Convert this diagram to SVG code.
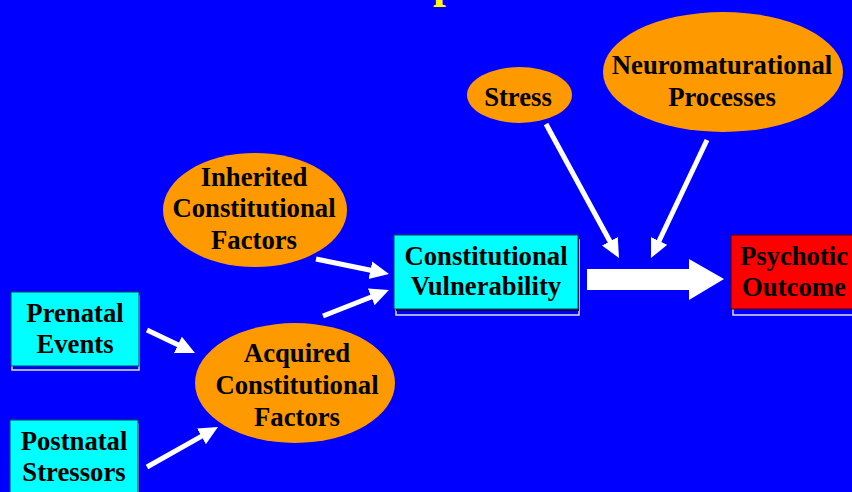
<svg xmlns="http://www.w3.org/2000/svg" width="852" height="492" viewBox="0 0 852 492">
<defs>
<style>
.t{font-family:"Liberation Serif","Times New Roman",serif;font-weight:bold;font-size:26.7px;fill:#000;text-anchor:middle}
.ell{fill:#FF9900}
.box{fill:#00FFFF;stroke:#004848;stroke-width:1}
.red{fill:#FF0000;stroke:#480000;stroke-width:1}
.sh{fill:none;stroke:#E0E0FF;stroke-width:1.5}
.ln{stroke:#FFFFFF;stroke-width:5;fill:none}
</style>
<marker id="ah" markerUnits="userSpaceOnUse" markerWidth="22" markerHeight="20" refX="4" refY="9" orient="auto">
<path d="M0,0 L19,9 L0,18 z" fill="#FFFFFF"/>
</marker>
</defs>
<rect x="0" y="0" width="852" height="492" fill="#0000FF"/>
<text x="433" y="-3" style="font-family:'Liberation Serif',serif;font-weight:bold;font-size:46px;fill:#FFFF00">p</text>

<g id="prenatal">
<rect class="sh" x="12" y="296" width="127" height="74"/>
<rect class="box" x="11" y="292" width="128" height="74"/>
<text class="t" x="75" y="322">Prenatal</text>
<text class="t" x="75" y="353">Events</text>
</g>
<g id="postnatal">
<rect class="sh" x="11" y="424" width="127" height="74"/>
<rect class="box" x="10" y="420" width="128" height="80"/>
<text class="t" x="74" y="450">Postnatal</text>
<text class="t" x="74" y="481">Stressors</text>
</g>
<g id="inherited">
<ellipse class="ell" cx="255" cy="210" rx="92" ry="57"/>
<text class="t" x="254" y="186">Inherited</text>
<text class="t" x="254" y="217">Constitutional</text>
<text class="t" x="254" y="249">Factors</text>
</g>
<g id="acquired">
<ellipse class="ell" cx="295" cy="383" rx="100" ry="60"/>
<text class="t" x="297" y="362">Acquired</text>
<text class="t" x="297" y="394">Constitutional</text>
<text class="t" x="297" y="426">Factors</text>
</g>
<g id="vulnerability">
<rect class="sh" x="396" y="240" width="183" height="75"/>
<rect x="396" y="237" width="183" height="74" fill="#000040"/>
<rect class="box" x="394" y="235" width="184" height="74"/>
<text class="t" x="486" y="265">Constitutional</text>
<text class="t" x="486" y="295">Vulnerability</text>
</g>
<g id="psychotic">
<rect class="sh" x="733" y="240" width="125" height="75"/>
<rect class="red" x="731" y="235" width="125" height="74"/>
<text class="t" x="794" y="265">Psychotic</text>
<text class="t" x="794" y="296">Outcome</text>
</g>
<g id="stress">
<ellipse class="ell" cx="519.5" cy="95" rx="52.5" ry="28"/>
<text class="t" x="518" y="106">Stress</text>
</g>
<g id="neuro">
<ellipse class="ell" cx="723" cy="72" rx="120" ry="60"/>
<text class="t" x="722" y="74">Neuromaturational</text>
<text class="t" x="722" y="106">Processes</text>
</g>

<g id="connectors">
<line class="ln" x1="147" y1="330" x2="181.5" y2="346.5" marker-end="url(#ah)"/>
<line class="ln" x1="147" y1="467" x2="204.9" y2="434.4" marker-end="url(#ah)"/>
<line class="ln" x1="316" y1="259" x2="374.3" y2="271" marker-end="url(#ah)"/>
<line class="ln" x1="323" y1="316" x2="375" y2="295.5" marker-end="url(#ah)"/>
<line class="ln" x1="546" y1="124" x2="611.8" y2="244.8" marker-end="url(#ah)"/>
<line class="ln" x1="707" y1="140" x2="657.4" y2="244.5" marker-end="url(#ah)"/>
<polygon points="587,269 689,269 689,259 724,279 689,300 689,290 587,290" fill="#FFFFFF"/>
</g>
</svg>
